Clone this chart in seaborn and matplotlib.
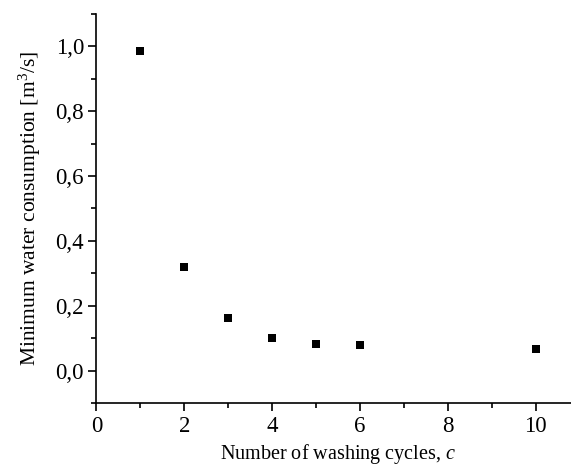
import matplotlib
matplotlib.use("Agg")
import matplotlib.pyplot as plt
from matplotlib import ticker
import pandas as pd
import seaborn as sns

# Data
cycles = [1, 2, 3, 4, 5, 6, 10]
water = [0.984, 0.321, 0.164, 0.102, 0.084, 0.079, 0.066]

sns.set_style("ticks")
plt.rcParams['font.family'] = 'serif'
plt.rcParams['font.serif'] = ['Liberation Serif']
plt.rcParams['mathtext.fontset'] = 'custom'
plt.rcParams['mathtext.rm'] = 'Liberation Serif'
plt.rcParams['mathtext.it'] = 'Liberation Serif:italic'
plt.rcParams['text.color'] = 'black'
plt.rcParams['axes.labelcolor'] = 'black'

df = pd.DataFrame({'c': cycles, 'q': water})

fig = plt.figure(figsize=(5.71, 4.68), dpi=100)
ax = fig.add_axes([0.169, 0.138, 0.846, 0.833])

sns.scatterplot(data=df, x='c', y='q', marker='s', s=36, color='black',
                edgecolor='black', linewidth=0, ax=ax, clip_on=False)

ax.set_xlim(0, 11)
ax.set_ylim(-0.1, 1.1)
ax.xaxis.set_major_locator(ticker.MultipleLocator(2))
ax.xaxis.set_minor_locator(ticker.MultipleLocator(1))
ax.yaxis.set_major_locator(ticker.MultipleLocator(0.2))
ax.yaxis.set_minor_locator(ticker.MultipleLocator(0.1))
ax.yaxis.set_major_formatter(ticker.FuncFormatter(lambda v, p: f"{v:.1f}".replace('.', ',')))

for side in ['top', 'right']:
    ax.spines[side].set_visible(False)
for side in ['left', 'bottom']:
    ax.spines[side].set_linewidth(1.2)
    ax.spines[side].set_color('black')

ax.tick_params(which='major', direction='out', length=6, width=1.2, labelsize=16.5,
               colors='black', pad=3)
ax.tick_params(which='minor', direction='out', length=3.5, width=1.2, colors='black')

ax.set_xlabel("Number of washing cycles, $c$", fontsize=14.5, labelpad=4, color='black')
ax.set_ylabel("Minimum water consumption [m$^3$/s]", fontsize=15.5, labelpad=9, color='black')

fig.savefig("out.png", dpi=100)
